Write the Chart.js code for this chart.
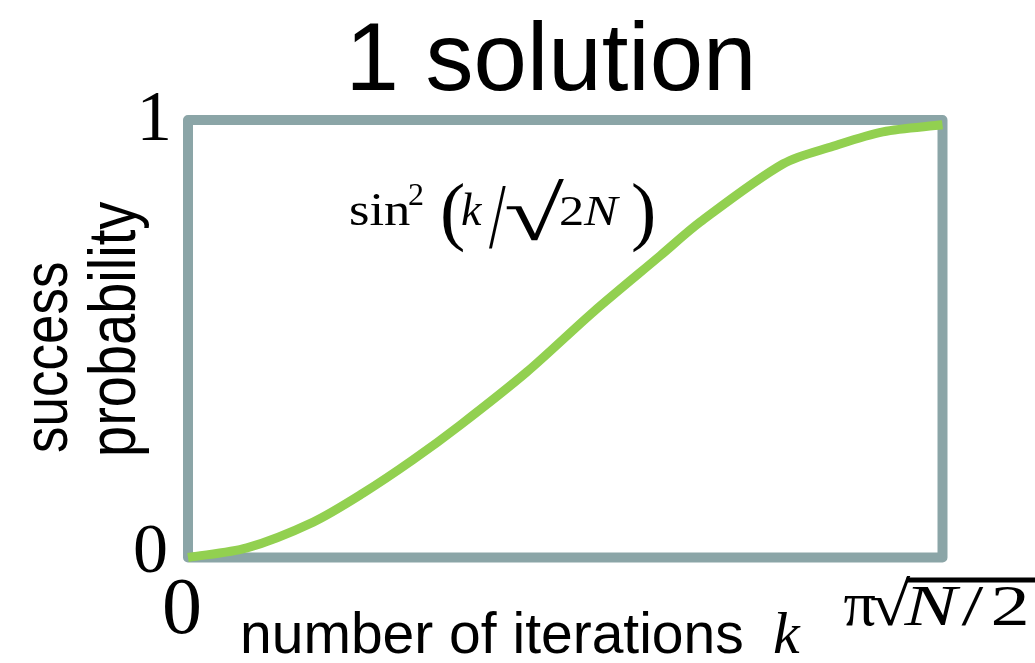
<!DOCTYPE html>
<html>
<head>
<meta charset="utf-8">
<title>1 solution</title>
<script src="https://cdn.jsdelivr.net/npm/chart.js@4.4.1/dist/chart.umd.min.js"></script>
<style>
  html, body { margin: 0; padding: 0; background: #fff; }
  #wrap { width: 1035px; height: 663px; }
</style>
</head>
<body>
<div id="wrap"><canvas id="chart" width="1035" height="663"></canvas></div>
<script>
// iterations as a fraction of pi*sqrt(N/2), and the success probability
const iterFrac = [0, 0.078, 0.166, 0.232, 0.298, 0.361, 0.449, 0.537, 0.626, 0.679, 0.789, 0.855, 0.921, 1];
const successProb = [0, 0.022, 0.081, 0.147, 0.223, 0.303, 0.424, 0.561, 0.69, 0.767, 0.9, 0.94, 0.973, 0.989];
const yTickValues = [0, 1];
const yTickLabels = ['0', '1'];
const xTickValues = [0, 1];

const SERIF = "'Liberation Serif', 'Times New Roman', serif";
const SANS = "'Liberation Sans', Arial, sans-serif";
const FRAME = '#8ba5a7';
const CURVE = '#92d050';

// draw one piece of text, optionally stretched
function part(ctx, text, font, x, y, sx, sy) {
  ctx.save();
  ctx.font = font;
  ctx.translate(x, y);
  ctx.scale(sx || 1, sy || 1);
  ctx.fillText(text, 0, 0);
  ctx.restore();
}

const framePlugin = {
  id: 'frame',
  beforeDatasetsDraw(chart) {
    const { ctx, chartArea: a } = chart;
    ctx.save();
    ctx.strokeStyle = FRAME;
    ctx.lineWidth = 10;
    ctx.lineJoin = 'round';
    ctx.strokeRect(a.left, a.top, a.right - a.left, a.bottom - a.top);
    ctx.restore();
  }
};

const textPlugin = {
  id: 'texts',
  afterDraw(chart) {
    const { ctx } = chart;
    const xs = chart.scales.x, ys = chart.scales.y;
    ctx.save();
    ctx.fillStyle = '#000';
    ctx.textBaseline = 'alphabetic';

    // title
    ctx.textAlign = 'center';
    part(ctx, '1 solution', '96px ' + SANS, 551, 90);

    // y ticks
    ctx.textAlign = 'right';
    part(ctx, yTickLabels[1], '71px ' + SERIF, xs.left - 16, ys.getPixelForValue(yTickValues[1]) + 20);
    part(ctx, yTickLabels[0], '70px ' + SERIF, xs.left - 20, ys.getPixelForValue(yTickValues[0]) + 14.5);

    // x ticks
    ctx.textAlign = 'center';
    part(ctx, '0', '80px ' + SERIF, xs.getPixelForValue(xTickValues[0]) - 6, ys.bottom + 75);

    ctx.textAlign = 'left';
    const x1 = xs.getPixelForValue(xTickValues[1]);
    const bx = x1 - 99, by = ys.bottom + 67;
    part(ctx, 'π', '64px ' + SERIF, bx, by);
    part(ctx, '√', '62px ' + SERIF, bx + 26, by, 1.2, 1);
    ctx.fillRect(bx + 63, by - 47, 140, 5);
    part(ctx, 'N', 'italic 56px ' + SERIF, bx + 61, by, 1.4, 1);
    part(ctx, '/', '56px ' + SERIF, bx + 118, by, 1.4, 1);
    part(ctx, '2', '56px ' + SERIF, bx + 147, by, 1.4, 1);

    // curve label
    const lx = 349, lb = 225;
    part(ctx, 'sin', '47px ' + SERIF, lx, lb, 1.12, 1);
    part(ctx, '2', '32px ' + SERIF, lx + 59, lb - 20);
    part(ctx, '(', '76px ' + SERIF, lx + 91, lb + 11);
    part(ctx, 'k', 'italic 46px ' + SERIF, lx + 112, lb);
    part(ctx, '/', '60px ' + SERIF, lx + 140, lb + 22, 1, 1.55);
    part(ctx, '√', '77px ' + SERIF, lx + 155, lb + 15, 1.42, 1);
    part(ctx, '2', '42px ' + SERIF, lx + 210, lb, 1.2, 1);
    part(ctx, 'N', 'italic 42px ' + SERIF, lx + 235, lb, 1.2, 1);
    part(ctx, ')', '76px ' + SERIF, lx + 282, lb + 11);

    // x axis title
    part(ctx, 'number of iterations', '57px ' + SANS, 240, 653);
    part(ctx, 'k', 'italic 60px ' + SERIF, 773, 653);

    // y axis title, two lines reading upwards
    ctx.save();
    ctx.translate(67, 453);
    ctx.rotate(-Math.PI / 2);
    part(ctx, 'success', '53px ' + SANS, 0, 0, 1, 1.2);
    ctx.restore();
    ctx.save();
    ctx.translate(135, 457);
    ctx.rotate(-Math.PI / 2);
    part(ctx, 'probability', '56px ' + SANS, 0, 0, 1, 1.2);
    ctx.restore();

    ctx.restore();
  }
};

new Chart(document.getElementById('chart'), {
  type: 'line',
  data: {
    datasets: [{
      data: iterFrac.map((x, i) => ({ x: x, y: successProb[i] })),
      borderColor: CURVE,
      borderWidth: 9,
      pointRadius: 0,
      fill: false,
      tension: 0.3,
      clip: false
    }]
  },
  options: {
    responsive: false,
    animation: false,
    layout: { padding: { left: 188, right: 92.5, top: 120, bottom: 105.5 } },
    plugins: { legend: { display: false }, tooltip: { enabled: false }, title: { display: false } },
    scales: {
      x: { type: 'linear', min: 0, max: 1, display: false },
      y: { type: 'linear', min: 0, max: 1, display: false }
    }
  },
  plugins: [framePlugin, textPlugin]
});
</script>
</body>
</html>
